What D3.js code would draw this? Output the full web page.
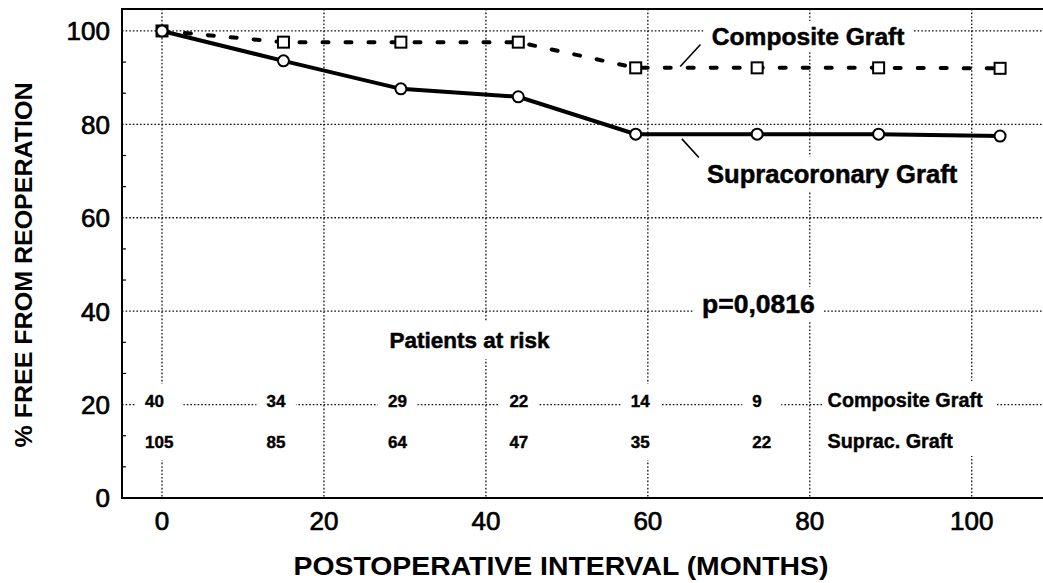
<!DOCTYPE html>
<html>
<head>
<meta charset="utf-8">
<script src="https://cdn.jsdelivr.net/npm/d3@7"></script>
<style>
  body { margin: 0; background: #fff; }
  text { font-family: "Liberation Sans", Arial, sans-serif; fill: #000; }
</style>
</head>
<body>
<div id="chart"></div>
<script>
// freedom from reoperation, Kaplan-Meier style
const months = [0, 15, 29.5, 44, 58.5, 73.5, 88.5, 103.5];
const composite = [100, 97.6, 97.6, 97.6, 92.1, 92.1, 92.1, 92.0];
const supracoronary = [100, 93.6, 87.6, 85.9, 77.9, 77.9, 77.9, 77.5];

const xTicks = [0, 20, 40, 60, 80, 100];
const yTicks = [0, 20, 40, 60, 80, 100];

const riskMonths = [0, 15, 30, 45, 60, 75];
const riskComposite = [40, 34, 29, 22, 14, 9];
const riskSuprac = [105, 85, 64, 47, 35, 22];

const width = 1043;
const height = 583;
const plotLeft = 122, plotTop = 9, plotBottom = 498, plotRight = 1043;

const svg = d3.select('#chart')
  .append('svg')
  .attr('width', width)
  .attr('height', height);

const x = d3.scaleLinear().domain([-4.94, 108.8]).range([plotLeft, plotRight]);
const y = d3.scaleLinear().domain([0, 104.7]).range([plotBottom, plotTop]);

// grid
const grid = svg.append('g')
  .attr('stroke', '#111')
  .attr('stroke-width', 1.3)
  .attr('stroke-dasharray', '1.6,2');

grid.selectAll('.hg')
  .data(yTicks.filter(d => d > 0))
  .enter().append('line')
  .attr('x1', plotLeft).attr('x2', plotRight)
  .attr('y1', d => y(d)).attr('y2', d => y(d));

grid.selectAll('.vg')
  .data(xTicks)
  .enter().append('line')
  .attr('x1', d => x(d)).attr('x2', d => x(d))
  .attr('y1', plotTop).attr('y2', plotBottom);

// minor ticks on the left axis, three steps per 20
const minorY = d3.range(0, 104, 20 / 3).filter((d, i) => i % 3 !== 0);
svg.append('g').selectAll('line')
  .data(minorY)
  .enter().append('line')
  .attr('x1', plotLeft).attr('x2', plotLeft + 4)
  .attr('y1', d => y(d)).attr('y2', d => y(d))
  .attr('stroke', '#000').attr('stroke-width', 1.2);

// frame
svg.append('path')
  .attr('d', `M${plotRight},${plotTop}H${plotLeft}V${plotBottom}H${plotRight}`)
  .attr('fill', 'none')
  .attr('stroke', '#000')
  .attr('stroke-width', 2);

// tick labels
svg.append('g').selectAll('text')
  .data(yTicks)
  .enter().append('text')
  .attr('x', plotLeft - 12)
  .attr('y', d => y(d))
  .attr('dy', '0.36em')
  .attr('text-anchor', 'end')
  .attr('font-size', 26)
  .attr('stroke', '#000').attr('stroke-width', 0.7)
  .text(d => d);

svg.append('g').selectAll('text')
  .data(xTicks)
  .enter().append('text')
  .attr('x', d => x(d))
  .attr('y', plotBottom + 32)
  .attr('text-anchor', 'middle')
  .attr('font-size', 26)
  .attr('stroke', '#000').attr('stroke-width', 0.7)
  .text(d => d);

// axis titles
svg.append('text')
  .attr('x', 561)
  .attr('y', 575)
  .attr('text-anchor', 'middle')
  .attr('font-size', 25)
  .attr('font-weight', 'bold')
  .attr('textLength', 535)
  .attr('lengthAdjust', 'spacingAndGlyphs')
  .text('POSTOPERATIVE INTERVAL (MONTHS)');

svg.append('text')
  .attr('transform', 'translate(32,265) rotate(-90)')
  .attr('text-anchor', 'middle')
  .attr('font-size', 24)
  .attr('font-weight', 'bold')
  .attr('textLength', 365)
  .attr('lengthAdjust', 'spacingAndGlyphs')
  .text('% FREE FROM REOPERATION');

// text on a white box, so the grid breaks around it
function boxedText(g, px, py, str, size, padX, padY) {
  const box = g.append('rect').attr('fill', '#fff');
  const t = g.append('text')
    .attr('x', px).attr('y', py)
    .attr('font-size', size)
    .attr('font-weight', 'bold')
    .attr('stroke', '#000').attr('stroke-width', 0.5)
    .text(str);
  const b = t.node().getBBox();
  box.attr('x', b.x - padX).attr('y', b.y - padY)
    .attr('width', b.width + 2 * padX).attr('height', b.height + 2 * padY);
  return t;
}

const notes = svg.append('g');
boxedText(notes, x(67.9), y(97), 'Composite Graft', 24.6, 8, 2);
boxedText(notes, x(67.3), y(67.5), 'Supracoronary Graft', 25.6, 8, 3);
boxedText(notes, x(66.7), y(39.6), 'p=0,0816', 26.5, 8, 2);
boxedText(notes, x(28.1), y(32.1), 'Patients at risk', 22.5, 8, 6);

// leader lines
const leaders = [
  [[66.5, 97.1], [64, 92.4]],
  [[64.2, 76.9], [66.3, 72.9]]
];
svg.append('g').selectAll('line')
  .data(leaders)
  .enter().append('line')
  .attr('x1', d => x(d[0][0])).attr('y1', d => y(d[0][1]))
  .attr('x2', d => x(d[1][0])).attr('y2', d => y(d[1][1]))
  .attr('stroke', '#000').attr('stroke-width', 1.6);

// patients at risk table
const table = svg.append('g');
const row1 = 19.5, row2 = 10.7;
riskMonths.forEach((m, i) => {
  const col = table.append('g');
  const box = col.append('rect').attr('fill', '#fff');
  const a = col.append('text')
    .attr('x', x(m) - 17).attr('y', y(row1))
    .attr('font-size', 17).attr('font-weight', 'bold')
    .attr('stroke', '#000').attr('stroke-width', 0.4)
    .text(riskComposite[i]);
  const b = col.append('text')
    .attr('x', x(m) - 17).attr('y', y(row2))
    .attr('font-size', 17).attr('font-weight', 'bold')
    .attr('stroke', '#000').attr('stroke-width', 0.4)
    .text(riskSuprac[i]);
  const ba = a.node().getBBox(), bb = b.node().getBBox();
  const x0 = Math.min(ba.x, bb.x) - 10, x1 = Math.max(ba.x + ba.width, bb.x + bb.width) + 10;
  box.attr('x', x0).attr('y', ba.y - 8)
    .attr('width', x1 - x0).attr('height', bb.y + bb.height - ba.y + 16);
});

{
  const col = table.append('g');
  const box = col.append('rect').attr('fill', '#fff');
  const a = col.append('text')
    .attr('x', x(82.2)).attr('y', y(row1))
    .attr('font-size', 19.8).attr('font-weight', 'bold')
    .attr('stroke', '#000').attr('stroke-width', 0.4)
    .text('Composite Graft');
  col.append('text')
    .attr('x', x(82.2)).attr('y', y(row2))
    .attr('font-size', 19.8).attr('font-weight', 'bold')
    .attr('stroke', '#000').attr('stroke-width', 0.4)
    .text('Suprac. Graft');
  const ba = a.node().getBBox();
  box.attr('x', ba.x - 5).attr('y', ba.y - 8)
    .attr('width', ba.width + 19).attr('height', 75);
}

// series lines
const line = d3.line()
  .x((d, i) => x(months[i]))
  .y(d => y(d));

svg.append('path')
  .datum(composite)
  .attr('d', line)
  .attr('fill', 'none')
  .attr('stroke', '#000')
  .attr('stroke-width', 4)
  .attr('stroke-linecap', 'round')
  .attr('stroke-dasharray', '6,17');

svg.append('path')
  .datum(supracoronary)
  .attr('d', line)
  .attr('fill', 'none')
  .attr('stroke', '#000')
  .attr('stroke-width', 4);

// markers
svg.append('g').selectAll('rect')
  .data(composite)
  .enter().append('rect')
  .attr('x', (d, i) => x(months[i]) - 5.5)
  .attr('y', d => y(d) - 5.5)
  .attr('width', 11).attr('height', 11)
  .attr('fill', '#fff')
  .attr('stroke', '#000')
  .attr('stroke-width', 2);

svg.append('g').selectAll('circle')
  .data(supracoronary)
  .enter().append('circle')
  .attr('cx', (d, i) => x(months[i]))
  .attr('cy', d => y(d))
  .attr('r', 5.5)
  .attr('fill', '#fff')
  .attr('stroke', '#000')
  .attr('stroke-width', 2);
</script>
</body>
</html>
